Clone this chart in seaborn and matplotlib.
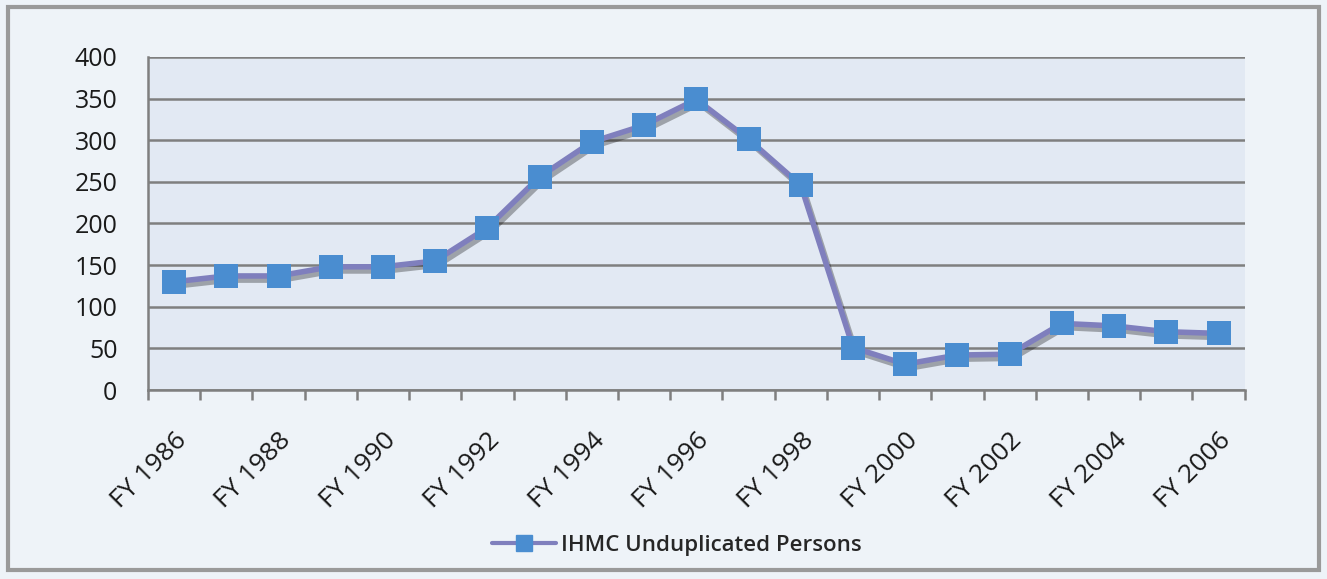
import numpy as np
import pandas as pd
import matplotlib
matplotlib.use("Agg")
import matplotlib.pyplot as plt
import matplotlib.patheffects as pe
from matplotlib.patches import Rectangle
from matplotlib.lines import Line2D
import seaborn as sns

# data
years = [f"FY {y}" for y in range(1986, 2007)]
persons = [130, 137, 137, 148, 148, 155, 195, 256, 298, 318, 349, 301, 246,
           51, 31, 42, 43, 80, 77, 70, 68]
series_name = "IHMC Unduplicated Persons"

df = pd.DataFrame({"year": years, "persons": persons})

line_col = "#7F7FBD"
mark_col = "#4A8DD0"

sns.set_style("white")
plt.rcParams["font.family"] = ["Open Sans", "DejaVu Sans"]

fig = plt.figure(figsize=(13.27, 5.79), dpi=100)
fig.patch.set_facecolor("#EEF3F8")

# outer frame of the chart
fig.patches.append(Rectangle((0.006, 0.016), 0.988, 0.972, transform=fig.transFigure,
                             fill=False, edgecolor="#9a9a9a", linewidth=3))

ax = fig.add_axes([0.1115, 0.3264, 0.8265, 0.5752])
ax.set_facecolor("#E2E9F3")

# line with soft shadow
sns.lineplot(data=df, x="year", y="persons", ax=ax, sort=False,
             color=line_col, linewidth=4, legend=False)
ax.lines[0].set_path_effects([pe.SimpleLineShadow(offset=(2, -3), alpha=0.3, rho=0.3),
                              pe.Normal()])
# square markers with shadow
sns.scatterplot(data=df, x="year", y="persons", ax=ax, marker="s", s=300,
                color=mark_col, edgecolor=mark_col, linewidth=0, legend=False, zorder=3)
ax.collections[0].set_path_effects([pe.SimplePatchShadow(offset=(3, -4), alpha=0.35, rho=0.3),
                                    pe.Normal()])

ax.set_ylim(0, 400)
ax.set_xlim(-0.5, len(years) - 0.5)
ax.set_yticks(range(0, 401, 50))
ax.yaxis.grid(True, color="#7f7f7f", linewidth=1.8)
ax.set_axisbelow(True)

# category ticks between points, labels on every other category
ax.set_xticks(np.arange(-0.5, len(years), 1.0), minor=True)
ax.set_xticks(range(0, len(years), 2))
ax.set_xticklabels(years[::2], rotation=45, ha="right", rotation_mode="anchor")
ax.tick_params(axis="x", which="minor", length=7, width=1.8, color="#7f7f7f", bottom=True)
ax.tick_params(axis="x", which="major", length=0, labelsize=19, pad=27, labelcolor="#1a1a1a")
ax.tick_params(axis="y", length=0, labelsize=18, pad=22, labelcolor="#1a1a1a")

for s in ["top", "right"]:
    ax.spines[s].set_visible(False)
for s in ["left", "bottom"]:
    ax.spines[s].set_color("#7f7f7f")
    ax.spines[s].set_linewidth(1.8)

ax.set_xlabel("")
ax.set_ylabel("")

handle = Line2D([], [], color=line_col, linewidth=3, marker="s", markersize=11,
                markerfacecolor=mark_col, markeredgecolor=mark_col)
ax.legend([handle], [series_name], loc="center", bbox_to_anchor=(0.51, 0.058),
          bbox_transform=fig.transFigure, frameon=False,
          handlelength=2.9, handletextpad=0.2,
          prop={"family": ["Open Sans", "DejaVu Sans"], "weight": "semibold", "size": 16})

fig.savefig("out.png", dpi=100, facecolor=fig.get_facecolor())
